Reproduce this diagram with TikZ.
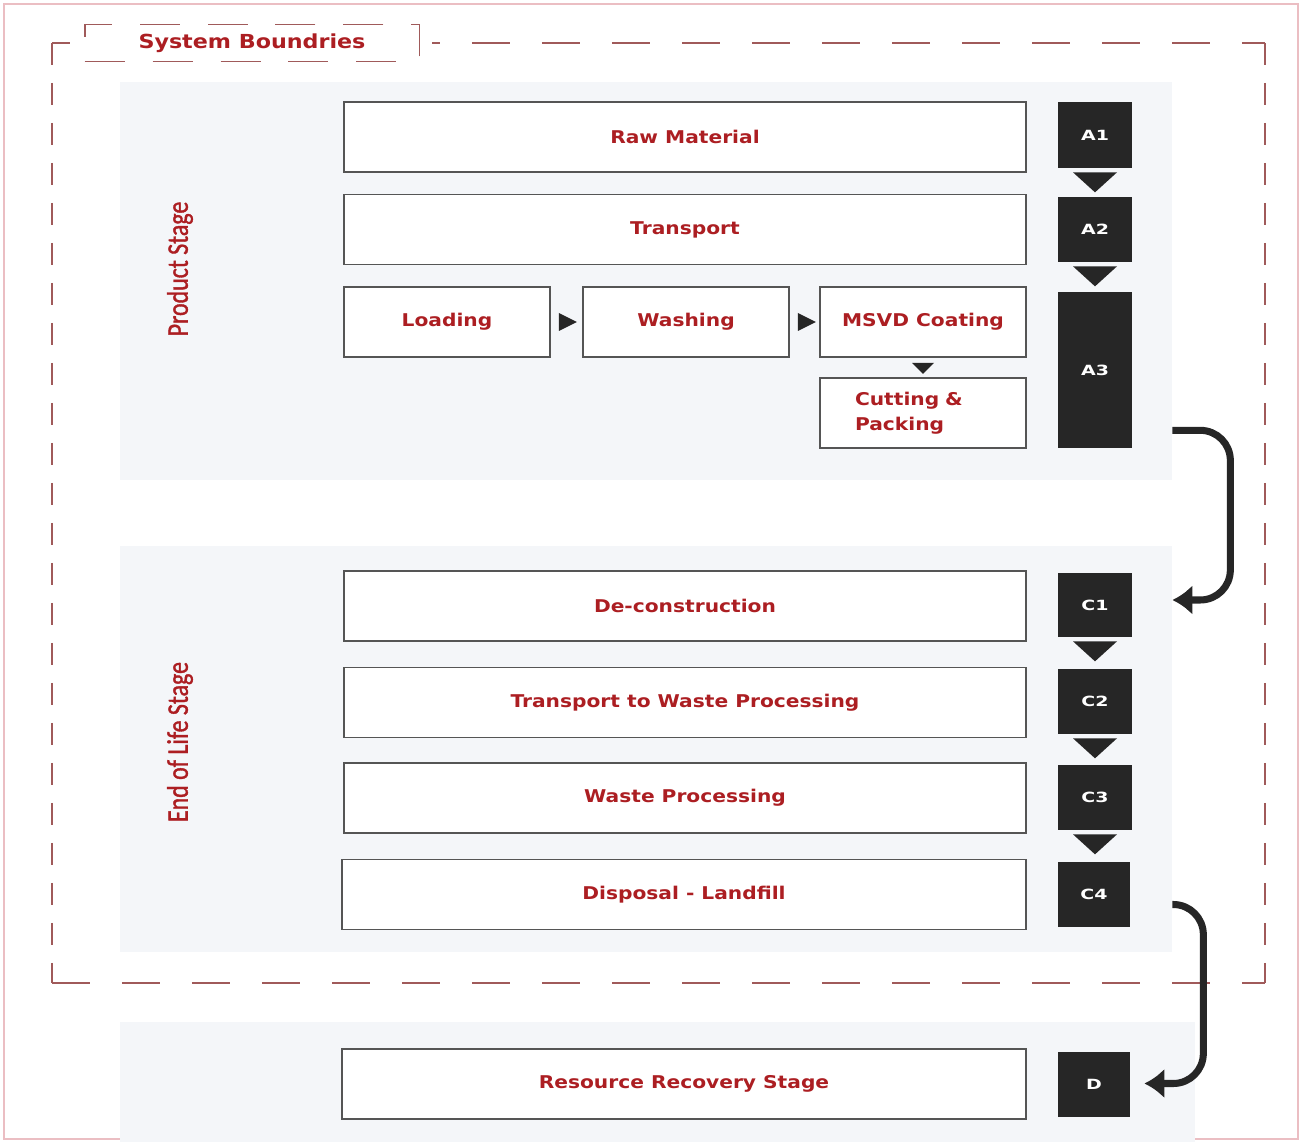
\documentclass[tikz,border=0pt]{standalone}
\usepackage{fontspec}
\usepackage{xcolor}
\usetikzlibrary{calc}
\usetikzlibrary{positioning}
\usetikzlibrary{arrows.meta}
\newfontfamily\boxfont{DejaVu Sans}[FakeStretch=1.15]
\newfontfamily\tagfont{DejaVu Sans}[FakeStretch=1.35]
\newfontfamily\stagefont{Carlito}[FakeStretch=0.8, FakeBold=1.2]
\definecolor{stage-red}{RGB}{172, 30, 34}
\definecolor{bound-red}{RGB}{160, 90, 90}
\definecolor{frame-pink}{RGB}{235, 190, 195}
\definecolor{panel-gray}{RGB}{244, 246, 249}
\definecolor{box-gray}{RGB}{85, 85, 85}
\definecolor{tag-dark}{RGB}{38, 38, 38}

\begin{document}
\begin{tikzpicture}[x=0.02cm, y=-0.02cm,
    stepbox/.style={draw=box-gray, line width=1.1pt, fill=white, text=stage-red,
      font=\boxfont\bfseries\fontsize{10}{14}\selectfont, inner sep=0pt},
    wide/.style={stepbox, minimum width=13.64cm, minimum height=1.4cm},
    short/.style={stepbox, minimum width=4.12cm, minimum height=1.4cm},
    tagbox/.style={fill=tag-dark, text=white, minimum width=1.48cm,
      font=\tagfont\bfseries\fontsize{8}{9}\selectfont, inner sep=0pt},
    stagelabel/.style={rotate=90, text=stage-red, font=\stagefont\fontsize{17}{19}\selectfont},
    bound/.style={draw=bound-red, line width=1.1pt},
    flow/.style={draw=tag-dark, line width=4pt, rounded corners=0.6cm,
      -{Latex[length=0.4cm, width=0.6cm]}}]
\useasboundingbox (0,0) rectangle (1303,1142);
\draw[frame-pink, line width=0.8pt] (4,4) rectangle (1298,1139);

% stage panels
\fill[panel-gray] (120,82) rectangle (1172,480);
\fill[panel-gray] (120,546) rectangle (1172,952);
\fill[panel-gray] (120,1022) rectangle (1195,1142);

% system boundary
\draw[bound, dash pattern=on 0.76cm off 0.64cm] (52,43) -- (1265,43);
\draw[bound, dash pattern=on 0.76cm off 0.64cm] (52,983) -- (1265,983);
\draw[bound, dash pattern=on 0.44cm off 0.36cm] (52,43) -- (52,983);
\draw[bound, dash pattern=on 0.44cm off 0.36cm] (1265,43) -- (1265,983);
\fill[white] (70,18) rectangle (432,68);
\node[bound, dash pattern=on 0.8cm off 0.56cm, fill=white, minimum width=6.7cm,
  minimum height=0.74cm, text=stage-red, font=\boxfont\bfseries\fontsize{11}{13}\selectfont]
  (sysb) at (252,43) {System Boundries};

\node[stagelabel] (prod) at (180,269) {Product Stage};
\node[stagelabel] (eol) at (180,742) {End of Life Stage};

% product stage
\node[wide] (raw) at (685,137) {Raw Material};
\node[wide] (trans) at (685,229.5) {Transport};
\node[short] (load) at (447,322) {Loading};
\node[short] (wash) at (686,322) {Washing};
\node[short] (msvd) at (923,322) {MSVD Coating};
\node[short, align=left, text width=2.72cm] (cut) at (923,413) {Cutting \&\\Packing};

% end of life stage
\node[wide] (decon) at (685,606) {De-construction};
\node[wide] (twp) at (685,702.5) {Transport to Waste Processing};
\node[wide] (waste) at (685,798) {Waste Processing};
\node[wide, minimum width=13.68cm] (disp) at (684,894.5) {Disposal - Landfill};
\node[wide, minimum width=13.68cm] (recov) at (684,1084) {Resource Recovery Stage};

% module tags
\node[tagbox, minimum height=1.32cm] (a1) at (1095,135) {A1};
\node[tagbox, minimum height=1.3cm] (a2) at (1095,229.5) {A2};
\node[tagbox, minimum height=3.12cm] (a3) at (1095,370) {A3};
\node[tagbox, minimum height=1.28cm] (c1) at (1095,605) {C1};
\node[tagbox, minimum height=1.3cm] (c2) at (1095,701.5) {C2};
\node[tagbox, minimum height=1.3cm] (c3) at (1095,797.5) {C3};
\node[tagbox, minimum height=1.3cm, minimum width=1.44cm] (c4) at (1094,894.5) {C4};
\node[tagbox, minimum height=1.3cm, minimum width=1.44cm] (d) at (1094,1084.5) {D};

\foreach \s in {a1,a2,c1,c2,c3}
  \fill[tag-dark] ($(\s.south)+(-22,4)$) -- ($(\s.south)+(22,4)$) -- ($(\s.south)+(0,24)$) -- cycle;
\foreach \s in {load,wash}
  \fill[tag-dark] ($(\s.east)+(8,-9)$) -- ($(\s.east)+(8,9)$) -- ($(\s.east)+(26,0)$) -- cycle;
\fill[tag-dark] ($(msvd.south)+(-11,5)$) -- ($(msvd.south)+(11,5)$) -- ($(msvd.south)+(0,16)$) -- cycle;

% stage links
\coordinate (a3out) at ($(a3.south east)+(40,-18)$);
\coordinate (c1in) at ($(c1.east)+(40,-5)$);
\draw[flow] (a3out) -- ++(58,0) |- (c1in);
\coordinate (c4out) at ($(c4.east)+(42,10)$);
\coordinate (din) at ($(d.east)+(14,-1)$);
\draw[flow] (c4out) -- ++(31,0) |- (din);
\end{tikzpicture}
\end{document}
